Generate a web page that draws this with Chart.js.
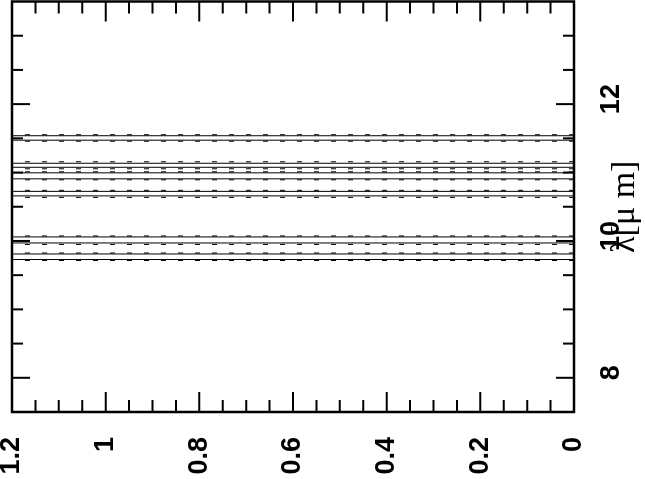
<!DOCTYPE html>
<html lang="en">

<head>
    <meta charset="UTF-8">
    <title>Line positions</title>
    <script src="https://cdn.jsdelivr.net/npm/chart.js"></script>
    <style>
        html, body { margin: 0; padding: 0; background: #fff; overflow: hidden; }
        /* the plot is drawn upright and the whole box turned a quarter turn */
        #wrap {
            position: absolute; left: 0; top: 0;
            width: 479px; height: 645px;
            transform-origin: 0 0;
            transform: translate(0, 479px) rotate(-90deg);
        }
    </style>
</head>

<body>
    <div id="wrap"><canvas id="lineChart"></canvas></div>

    <script>
        // Wavelength axis (micron)
        const waveMin = 7.5;
        const waveMax = 13.5;
        const waveLabels = [8, 10, 12];
        const waveMinor = [8.5, 9, 9.5, 10.5, 11, 11.5, 12.5, 13];

        // Vertical axis
        const transMin = 0;
        const transMax = 1.2;
        const transLabels = [0, 0.2, 0.4, 0.6, 0.8, 1, 1.2];
        const transMinor = [0.05, 0.1, 0.15, 0.25, 0.3, 0.35, 0.45, 0.5, 0.55,
            0.65, 0.7, 0.75, 0.85, 0.9, 0.95, 1.05, 1.1, 1.15];

        // Line positions (micron)
        const solidLines = [9.729, 9.810, 9.971, 10.059, 10.659, 10.725,
            10.908, 10.996, 11.077, 11.136, 11.473, 11.538];
        const dottedLines = [9.714, 9.824, 9.949, 10.073, 10.637, 10.740,
            10.894, 11.011, 11.055, 11.158, 11.458, 11.553];

        // One dataset per line, running over the whole vertical range
        function lineSet(wave, dashed) {
            return {
                data: [{ x: wave, y: transMin }, { x: wave, y: transMax }],
                borderColor: '#000',
                borderWidth: 1,
                borderDash: dashed ? [5, 12] : [],
                pointRadius: 0,
                fill: false
            };
        }

        const datasets = [
            ...solidLines.map(w => lineSet(w, false)),
            ...dottedLines.map(w => lineSet(w, true))
        ];

        // Frame and inward ticks on all four sides
        const frameTicks = {
            id: 'frameTicks',
            afterDatasetsDraw(chart) {
                const { ctx, chartArea: a, scales: { x, y } } = chart;
                ctx.save();
                ctx.strokeStyle = '#000';
                ctx.lineCap = 'butt';
                ctx.lineWidth = 2;
                ctx.beginPath();
                waveLabels.concat(waveMinor).forEach(v => {
                    const px = x.getPixelForValue(v);
                    const len = waveLabels.includes(v) ? 18 : 11;
                    ctx.moveTo(px, a.bottom); ctx.lineTo(px, a.bottom - len);
                    ctx.moveTo(px, a.top); ctx.lineTo(px, a.top + len);
                });
                transLabels.concat(transMinor).forEach(v => {
                    const py = y.getPixelForValue(v);
                    const len = transLabels.includes(v) ? 20 : 12;
                    ctx.moveTo(a.left, py); ctx.lineTo(a.left + len, py);
                    ctx.moveTo(a.right, py); ctx.lineTo(a.right - len, py);
                });
                ctx.stroke();
                ctx.lineWidth = 2.5;
                ctx.strokeRect(a.left, a.top, a.right - a.left, a.bottom - a.top);
                ctx.restore();
            }
        };

        const labelFont = { family: "'Liberation Sans', Arial, sans-serif", size: 27, weight: 'bold' };

        new Chart(document.getElementById('lineChart'), {
            type: 'line',
            data: { datasets: datasets },
            options: {
                responsive: true,
                maintainAspectRatio: false,
                animation: false,
                events: [],
                layout: { padding: { top: 12, right: 1.5, left: 0, bottom: 0 } },
                plugins: { legend: { display: false }, tooltip: { enabled: false } },
                scales: {
                    x: {
                        type: 'linear',
                        min: waveMin,
                        max: waveMax,
                        afterBuildTicks: s => { s.ticks = waveLabels.map(v => ({ value: v })); },
                        afterFit: s => { s.height = 71; s.paddingLeft = 0; s.paddingRight = 0; },
                        grid: { display: false },
                        border: { display: false },
                        ticks: {
                            font: labelFont, color: '#000', padding: 13, labelOffset: 5,
                            maxRotation: 0, autoSkip: false
                        },
                        title: {
                            display: true,
                            text: 'λ[μ m]',
                            color: '#000',
                            font: { family: "'Liberation Serif', 'Times New Roman', serif", size: 34 },
                            padding: 0
                        }
                    },
                    y: {
                        type: 'linear',
                        min: transMin,
                        max: transMax,
                        afterBuildTicks: s => { s.ticks = transLabels.map(v => ({ value: v })); },
                        afterFit: s => { s.width = 67; s.paddingTop = 0; s.paddingBottom = 0; },
                        grid: { display: false },
                        border: { display: false },
                        ticks: {
                            font: labelFont, color: '#000', padding: 17,
                            callback: v => String(+v.toFixed(2))
                        }
                    }
                }
            },
            plugins: [frameTicks]
        });
    </script>
</body>

</html>
